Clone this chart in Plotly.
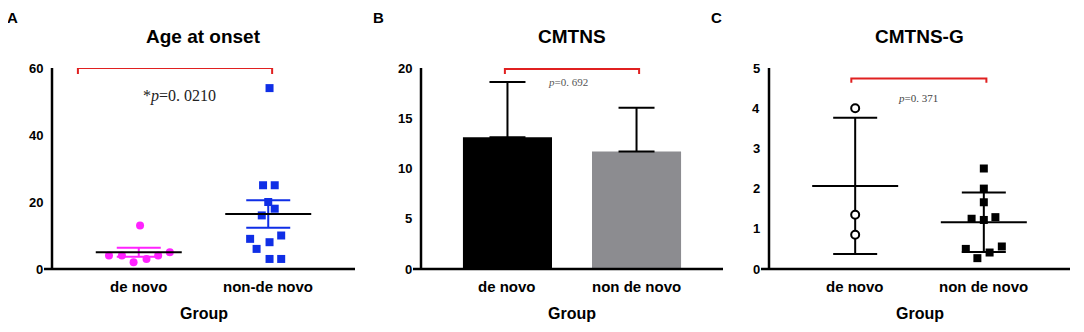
import numpy as np
import plotly.graph_objects as go
from plotly.subplots import make_subplots

# ---------------- data ----------------
groups_a = ["de novo", "non-de novo"]
groups_bc = ["de novo", "non de novo"]

# Panel A: age at onset (individual points + jitter offsets in category units)
age_denovo = [4, 4, 2, 3, 4, 5, 13]
age_denovo_jit = [-0.23, -0.13, -0.04, 0.06, 0.15, 0.24, 0.01]
age_nondenovo = [25, 25, 20, 18, 16, 9, 6, 8, 10, 3, 3, 54]
age_nondenovo_jit = [-0.04, 0.05, 0.0, 0.05, -0.05, -0.14, -0.09, 0.01, 0.10, 0.01, 0.10, 0.01]

# Panel B: CMTNS mean and SD
cmtns_mean = [13.1, 11.7]
cmtns_sd = [5.5, 4.35]

# Panel C: CMTNS-G individual points
cmtnsg_denovo = [4.0, 1.35, 0.85]
cmtnsg_denovo_jit = [0.0, 0.0, 0.0]
cmtnsg_nondenovo = [2.5, 2.0, 1.66, 1.25, 1.22, 1.29, 0.5, 0.41, 0.56, 0.27]
cmtnsg_nondenovo_jit = [0.0, 0.0, 0.0, -0.095, 0.0, 0.09, -0.14, 0.045, 0.14, -0.05]

titles = ["Age at onset", "CMTNS", "CMTNS-G"]
panel_labels = ["A", "B", "C"]
p_texts = ["*<i>p</i>=0. 0210", "<i>p</i>=0. 692", "<i>p</i>=0. 371"]
y_ranges = [[0, 60], [0, 20], [0, 5]]
y_dticks = [20, 5, 1]

# -------------- styles ----------------
SANS = "Arial, Liberation Sans, sans-serif"
SERIF = "Times New Roman, Liberation Serif, serif"
MAGENTA = "#ff22ff"
BLUE = "#0f2ee6"
RED = "#e02020"
GREY = "#8c8c90"

H = 332
W = 1084
OX, OY = 8, 8   # page (body margin) offset compensation
LINE_SYM = 1.4  # plotly line-ew / line-ns symbols are 1.4 x marker size long


def px_x(x):
    return (x - OX) / W


def px_y(y):
    return 1 - (y - OY) / H


x_axis_px = [(52, 355), (421, 723), (769, 1070)]   # y-axis position, right end
y_top_px, y_bot_px = 68, 269
X_RANGE = [-0.67, 1.67]
AXW = 2.5

fig = make_subplots(rows=1, cols=3)


def sem(v):
    v = np.asarray(v, float)
    return v.std(ddof=1) / np.sqrt(len(v))


def sd(v):
    return float(np.asarray(v, float).std(ddof=1))


def seg(col, x, y, symbol, length):
    """A straight axis segment drawn as a line marker of given pixel length."""
    fig.add_trace(go.Scatter(
        x=[x], y=[y], mode="markers", cliponaxis=False,
        marker=dict(symbol=symbol, size=length / LINE_SYM, color="black",
                    line=dict(color="black", width=AXW)),
        showlegend=False, hoverinfo="skip"), row=1, col=col)


def add_axes_frame(col, i):
    """Axis lines and tick marks (GraphPad style)."""
    x0p, x1p = x_axis_px[i]
    ux = (X_RANGE[1] - X_RANGE[0]) / (x1p - x0p)
    lo, hi = y_ranges[i]
    uy = (hi - lo) / (y_bot_px - y_top_px)
    xa = X_RANGE[0]
    # x axis line (slightly extended left of the y axis)
    seg(col, (xa - 8 * ux + X_RANGE[1]) / 2, lo, "line-ew", (x1p - x0p) + 8)
    # y axis line
    seg(col, xa, (lo + hi) / 2, "line-ns", (y_bot_px - y_top_px))
    # y ticks
    for v in np.arange(lo, hi + 1e-9, y_dticks[i]):
        seg(col, xa - 3.5 * ux, float(v), "line-ew", 7)
    # x ticks
    for k in (0, 1):
        seg(col, k, lo - 4 * uy, "line-ns", 8)


def add_pts(col, xs, ys, jit, symbol, color, open_=False, size=8):
    fig.add_trace(go.Scatter(
        x=[xs + j for j in jit], y=ys, mode="markers", cliponaxis=False,
        marker=dict(symbol=symbol, size=size,
                    color="white" if open_ else color,
                    line=dict(color=color, width=2 if open_ else 0)),
        showlegend=False, hoverinfo="skip"), row=1, col=col)


def add_mean_err(col, xc, vals, err, err_color, mean_color="black"):
    m = float(np.mean(vals))
    fig.add_trace(go.Scatter(
        x=[xc], y=[m], mode="markers", cliponaxis=False,
        marker=dict(size=0.1, color=err_color),
        error_y=dict(type="data", array=[err], color=err_color, thickness=2, width=22),
        showlegend=False, hoverinfo="skip"), row=1, col=col)
    fig.add_trace(go.Scatter(
        x=[xc], y=[m], mode="markers", cliponaxis=False,
        marker=dict(symbol="line-ew", size=86 / LINE_SYM,
                    line=dict(color=mean_color, width=2)),
        showlegend=False, hoverinfo="skip"), row=1, col=col)


# Panel A
add_pts(1, 0, age_denovo, age_denovo_jit, "circle", MAGENTA)
add_pts(1, 1, age_nondenovo, age_nondenovo_jit, "square", BLUE)
add_mean_err(1, 0, age_denovo, sem(age_denovo), MAGENTA)
add_mean_err(1, 1, age_nondenovo, sem(age_nondenovo), BLUE)

# Panel B
fig.add_trace(go.Bar(
    x=[0, 1], y=cmtns_mean, width=0.69,
    marker=dict(color=["black", GREY], line=dict(width=0)),
    error_y=dict(type="data", symmetric=False, array=cmtns_sd,
                 arrayminus=[0, 0], color="black", thickness=2, width=18),
    showlegend=False, hoverinfo="skip"), row=1, col=2)

# Panel C
add_mean_err(3, 0, cmtnsg_denovo, sd(cmtnsg_denovo), "black")
add_mean_err(3, 1, cmtnsg_nondenovo, sd(cmtnsg_nondenovo), "black")
add_pts(3, 0, cmtnsg_denovo, cmtnsg_denovo_jit, "circle", "black", open_=True, size=8)
add_pts(3, 1, cmtnsg_nondenovo, cmtnsg_nondenovo_jit, "square", "black", size=8)

for i in range(3):
    add_axes_frame(i + 1, i)

# significance brackets
bracket_x = [(-0.47, 1.03), (-0.02, 1.02), (-0.03, 1.02)]
bracket_top = [60, 19.9, 4.74]
bracket_drop = [1.8, 0.5, 0.11]
p_pos = [(0.315, 51.6), (0.47, 18.6), (0.49, 4.25)]
p_sizes = [16, 11, 11]
p_colors = ["#222222", "#555555", "#444444"]
for i in range(3):
    x0, x1 = bracket_x[i]
    t, d = bracket_top[i], bracket_drop[i]
    fig.add_trace(go.Scatter(
        x=[x0, x0, x1, x1], y=[t - d, t, t, t - d], mode="lines", cliponaxis=False,
        line=dict(color=RED, width=2), showlegend=False, hoverinfo="skip"), row=1, col=i + 1)
    fig.add_annotation(x=p_pos[i][0], y=p_pos[i][1], text=p_texts[i], showarrow=False,
                       xanchor="center", yanchor="middle",
                       font=dict(family=SERIF, size=p_sizes[i], color=p_colors[i]),
                       row=1, col=i + 1)

fig.update_layout(width=W, height=H, margin=dict(l=0, r=0, t=0, b=0, pad=0),
                  paper_bgcolor="white", plot_bgcolor="white", showlegend=False)

for i in range(3):
    x0p, x1p = x_axis_px[i]
    lo, hi = y_ranges[i]
    ticktext = groups_a if i == 0 else groups_bc
    xr = "x" if i == 0 else f"x{i+1}"
    yr = "y" if i == 0 else f"y{i+1}"
    fig.update_xaxes(
        domain=[px_x(x0p), px_x(x1p)], range=X_RANGE, automargin=False,
        showticklabels=False, showline=False, ticks="", showgrid=False, zeroline=False,
        row=1, col=i + 1)
    fig.update_yaxes(
        domain=[px_y(y_bot_px), px_y(y_top_px)], range=[lo, hi], automargin=False,
        showticklabels=False, showline=False, ticks="", showgrid=False, zeroline=False,
        row=1, col=i + 1)
    # y tick labels
    for v in np.arange(lo, hi + 1e-9, y_dticks[i]):
        fig.add_annotation(x=px_x(x0p - 7), y=float(v), xref="paper", yref=yr,
                           text=f"{v:g}", xanchor="right", yanchor="middle", showarrow=False,
                           font=dict(family=SANS, size=13, color="black", weight="bold"))
    # category labels
    for k, lab in enumerate(ticktext):
        fig.add_annotation(x=k, y=px_y(286), xref=xr, yref="paper", text=lab,
                           xanchor="center", yanchor="middle", showarrow=False,
                           font=dict(family=SANS, size=15, color="black", weight="bold"))

for i in range(3):
    x0p, x1p = x_axis_px[i]
    cx = px_x((x0p + x1p) / 2)
    fig.add_annotation(x=cx, y=px_y(37), xref="paper", yref="paper", text=titles[i],
                       xanchor="center", yanchor="middle", showarrow=False,
                       font=dict(family=SANS, size=19, color="black", weight="bold"))
    fig.add_annotation(x=cx, y=px_y(313), xref="paper", yref="paper", text="Group",
                       xanchor="center", yanchor="middle", showarrow=False,
                       font=dict(family=SANS, size=16, color="black", weight="bold"))

label_x = [12, 378, 716]
for i in range(3):
    fig.add_annotation(x=px_x(label_x[i]), y=px_y(17), xref="paper", yref="paper",
                       text=panel_labels[i], xanchor="center", yanchor="middle",
                       showarrow=False,
                       font=dict(family=SANS, size=15, color="black", weight="bold"))

fig.write_html("out.html")
